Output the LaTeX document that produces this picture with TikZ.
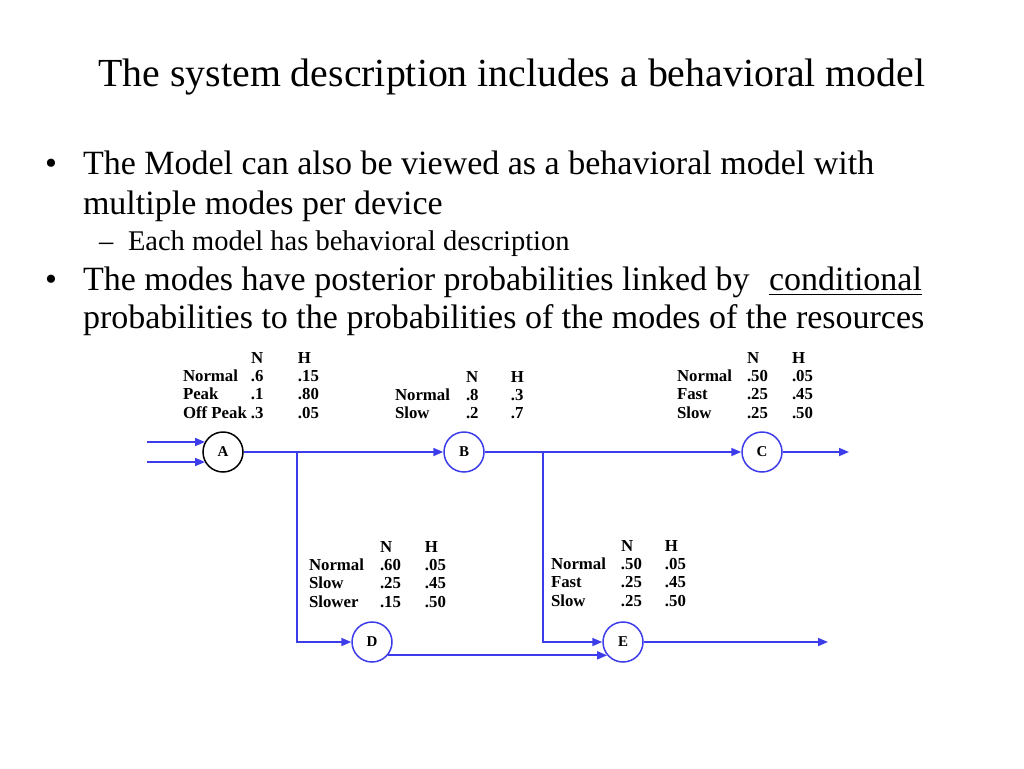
\documentclass[tikz,border=0pt]{standalone}
\usepackage{fontspec}
\setmainfont{Liberation Serif}
\usetikzlibrary{arrows.meta,calc}
\definecolor{lineblue}{RGB}{60,60,235}
\begin{document}
\begin{tikzpicture}[x=1pt,y=-1pt,
  txt/.style={inner sep=0pt,outer sep=0pt,anchor=base west},
  title/.style={inner sep=0pt,anchor=base,font=\fontsize{39.8}{46}\selectfont},
  body/.style={txt,font=\fontsize{34}{40}\selectfont},
  sub/.style={txt,font=\fontsize{28.5}{33}\selectfont},
  tab/.style={txt,font=\fontsize{16.8}{18.4}\selectfont\bfseries},
  mode/.style={circle,draw=lineblue,line width=1.5pt,minimum size=40pt,inner sep=0pt,font=\fontsize{15}{18}\selectfont\bfseries},
  wire/.style={draw=lineblue,line width=1.7pt},
  arr/.style={wire,-{Triangle[length=10pt,width=8pt]}}
]
\useasboundingbox (0,0) rectangle (1024,768);
\fill[white] (0,0) rectangle (1024,768);
% title
\node[title] (title) at (512,86) {The system description includes a behavioral model};
% bullets
\node[body] (b1) at (45,174) {\textbullet};
\node[body] (t1a) at (83,174) {The Model can also be viewed as a behavioral model with};
\node[body] (t1b) at (83,214) {multiple modes per device};
\node[sub] (d1) at (99,250) {--};
\node[sub] (t1c) at (128,250) {Each model has behavioral description};
\node[body] (b2) at (45,290) {\textbullet};
\node[body] (t2a) at (83,290) {The modes have posterior probabilities linked by};
\node[body] (cond) at (769,290) {conditional};
\draw[line width=1.8pt] ($(cond.base west)+(0,4.5)$) -- ($(cond.base east)+(0,4.5)$);
\node[body] (t2b) at (83,328) {probabilities to the probabilities of the modes of the resources};
% tables
\node[tab] (tabA) at (183,363) {\begin{tabular}[t]{@{}p{68pt}@{}p{47pt}@{}l@{}}
 & N & H\\ Normal & .6 & .15\\ Peak & .1 & .80\\ Off Peak & .3 & .05\end{tabular}};
\node[tab] (tabB) at (395,382) {\begin{tabular}[t]{@{}p{71pt}@{}p{45pt}@{}l@{}}
 & N & H\\ Normal & .8 & .3\\ Slow & .2 & .7\end{tabular}};
\node[tab] (tabC) at (677,363) {\begin{tabular}[t]{@{}p{70pt}@{}p{45pt}@{}l@{}}
 & N & H\\ Normal & .50 & .05\\ Fast & .25 & .45\\ Slow & .25 & .50\end{tabular}};
\node[tab] (tabD) at (309,552) {\begin{tabular}[t]{@{}p{71pt}@{}p{45pt}@{}l@{}}
 & N & H\\ Normal & .60 & .05\\ Slow & .25 & .45\\ Slower & .15 & .50\end{tabular}};
\node[tab] (tabE) at (551,551) {\begin{tabular}[t]{@{}p{70pt}@{}p{44pt}@{}l@{}}
 & N & H\\ Normal & .50 & .05\\ Fast & .25 & .45\\ Slow & .25 & .50\end{tabular}};
% nodes
\node[mode,draw=black] (A) at (223,452) {A};
\node[mode] (B) at (464,452) {B};
\node[mode] (C) at (762,452) {C};
\node[mode] (D) at (372,642) {D};
\node[mode] (E) at (623,642) {E};
% connectors
\coordinate (ia1) at (147,442);
\coordinate (ia2) at (147,462);
\coordinate (j1) at (297,452);
\coordinate (j2) at (543,452);
\coordinate (cout) at (849,452);
\coordinate (eout) at (828,642);
\draw[arr] (ia1) -- (ia1 -| A.150);
\draw[arr] (ia2) -- (ia2 -| A.210);
\draw[arr] (A) -- (B);
\draw[arr] (j1) |- (D);
\draw[arr] (B) -- (C);
\draw[arr] (j2) |- (E);
\draw[arr] (C) -- (cout);
\draw[arr] (D.-40) -- (D.-40 -| E.220);
\draw[arr] (E) -- (eout);
\end{tikzpicture}
\end{document}
